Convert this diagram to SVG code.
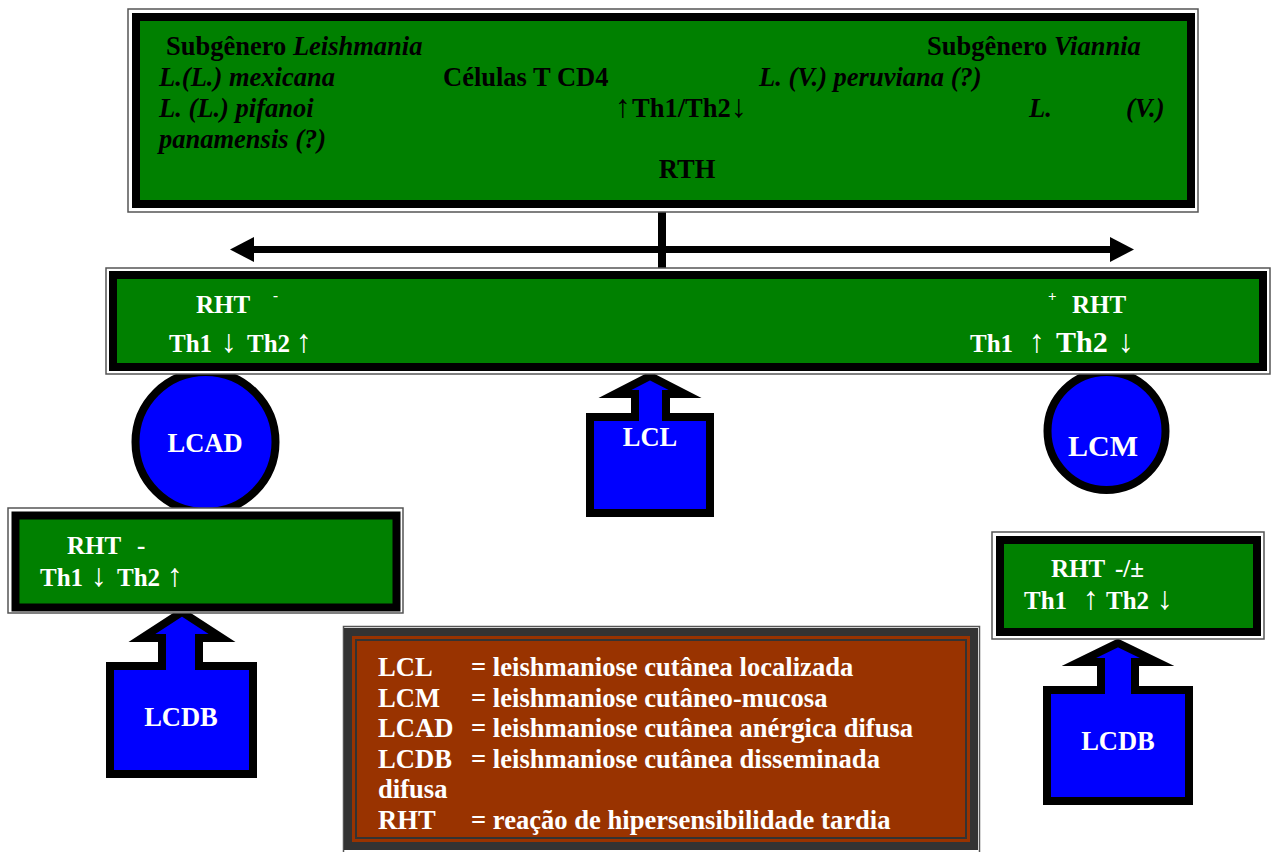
<svg xmlns="http://www.w3.org/2000/svg" width="1272" height="852" viewBox="0 0 1272 852">
<style>
.frame{fill:#fff;stroke:#555;stroke-width:1.5}
.gbox{fill:#008000;stroke:#000;stroke-width:8}
.blue{fill:#0000ff;stroke:#000;stroke-width:8;stroke-linejoin:miter;stroke-miterlimit:10}
.t{font-family:"Liberation Serif","Times New Roman",serif;font-weight:bold;font-size:26.5px}
.k{fill:#000}
.w{fill:#fff}
.i{font-style:italic}
.s{font-size:25px}
.sup{font-size:15px}
.ar{font-size:32px;font-weight:normal}
.lg{font-size:26.6px}
</style>
<rect width="1272" height="852" fill="#fff"/>

<!-- nodes drawn behind boxes -->
<g id="lcad">
<circle cx="205.5" cy="442" r="70" class="blue"/>
<text x="205" y="452" text-anchor="middle" class="t w">LCAD</text>
</g>
<g id="lcm">
<circle cx="1106.5" cy="431" r="59" class="blue"/>
<text x="1103" y="456" text-anchor="middle" class="t w" style="font-size:30px">LCM</text>
</g>
<g id="lcl">
<path class="blue" d="M650,376 L685,394 L666,394 L666,417 L710,417 L710,513 L590,513 L590,417 L635,417 L635,394 L615,394 Z"/>
<text x="650" y="446" text-anchor="middle" class="t w">LCL</text>
</g>
<g id="lcdb-left">
<path class="blue" d="M182,612 L222,638 L199,638 L199,666 L253,666 L253,774 L110,774 L110,666 L162,666 L162,638 L142,638 Z"/>
<text x="181" y="726" text-anchor="middle" class="t w">LCDB</text>
</g>
<g id="lcdb-right">
<path class="blue" d="M1118,643 L1157,662 L1135,662 L1135,690 L1189,690 L1189,801 L1047,801 L1047,690 L1101,690 L1101,662 L1079,662 Z"/>
<text x="1118" y="750" text-anchor="middle" class="t w">LCDB</text>
</g>

<!-- connectors -->
<g id="connectors">
<line x1="662" y1="208" x2="662" y2="272" stroke="#000" stroke-width="8"/>
<line x1="252" y1="249.5" x2="1111" y2="249.5" stroke="#000" stroke-width="7"/>
<polygon points="230,249.5 254,237 254,262" fill="#000"/>
<polygon points="1134,249.5 1110,237 1110,262" fill="#000"/>
</g>

<g id="top-box">
<rect x="128" y="9" width="1070" height="203" class="frame"/>
<rect x="136" y="17" width="1055" height="187" class="gbox"/>
<text x="166" y="55" class="t k">Subgênero <tspan class="i">Leishmania</tspan></text>
<text x="927" y="55" class="t k">Subgênero <tspan class="i">Viannia</tspan></text>
<text x="159" y="86" class="t k i">L.(L.) mexicana</text>
<text x="443" y="86" class="t k">Células T CD4</text>
<text x="759" y="86" class="t k i">L. (V.) peruviana (?)</text>
<text x="159" y="117" class="t k i">L. (L.) pifanoi</text>
<text y="117" class="t k"><tspan x="615" class="ar">↑</tspan><tspan x="632">Th1/Th2</tspan><tspan x="731" class="ar">↓</tspan></text>
<text x="1029" y="117" class="t k i">L.</text>
<text x="1126" y="117" class="t k i">(V.)</text>
<text x="159" y="148" class="t k i">panamensis (?)</text>
<text x="687" y="178" text-anchor="middle" class="t k">RTH</text>
</g>

<g id="rht-box">
<rect x="106" y="268" width="1164" height="106" class="frame"/>
<rect x="113" y="275" width="1150" height="92" class="gbox"/>
<text x="196" y="313" class="t w s">RHT</text>
<text x="273" y="300" class="t w sup">-</text>
<text y="352" class="t w s"><tspan x="169">Th1</tspan><tspan x="221" class="ar">↓</tspan><tspan x="247">Th2</tspan><tspan x="296" class="ar">↑</tspan></text>
<text x="1048" y="301" class="t w sup">+</text>
<text x="1072" y="313" class="t w s">RHT</text>
<text y="352" class="t w s"><tspan x="970">Th1</tspan><tspan x="1029" class="ar">↑</tspan><tspan x="1056" style="font-size:30px">Th2</tspan><tspan x="1118" class="ar">↓</tspan></text>
</g>

<g id="rht-left">
<rect x="8" y="508" width="395" height="105" class="frame"/>
<rect x="15.5" y="515.5" width="381" height="92" class="gbox"/>
<text x="67" y="554" class="t w s">RHT  <tspan x="137">-</tspan></text>
<text y="586" class="t w s"><tspan x="40">Th1</tspan><tspan x="91" class="ar">↓</tspan><tspan x="117">Th2</tspan><tspan x="167" class="ar">↑</tspan></text>
</g>

<g id="rht-right">
<rect x="992" y="532" width="272" height="107" class="frame"/>
<rect x="1000" y="540" width="257" height="92" class="gbox"/>
<text x="1051" y="577" class="t w s">RHT <tspan x="1115">-/±</tspan></text>
<text y="609" class="t w s"><tspan x="1024">Th1</tspan><tspan x="1083" class="ar">↑</tspan><tspan x="1106">Th2</tspan><tspan x="1157" class="ar">↓</tspan></text>
</g>

<g id="legend">
<rect x="343.5" y="626.5" width="636" height="230" class="frame"/>
<rect x="348" y="632" width="626" height="214" fill="#993300" stroke="#333" stroke-width="8"/>
<rect x="356" y="640" width="610" height="198" fill="none" stroke="#333" stroke-width="2"/>
<g class="t w lg">
<text x="378" y="676">LCL</text><text x="471" y="676">= leishmaniose cutânea localizada</text>
<text x="378" y="707">LCM</text><text x="471" y="707">= leishmaniose cutâneo-mucosa</text>
<text x="378" y="737">LCAD</text><text x="471" y="737">= leishmaniose cutânea anérgica difusa</text>
<text x="378" y="768">LCDB</text><text x="471" y="768">= leishmaniose cutânea disseminada</text>
<text x="378" y="798">difusa</text>
<text x="378" y="829">RHT</text><text x="471" y="829">= reação de hipersensibilidade tardia</text>
</g>
</g>
</svg>
